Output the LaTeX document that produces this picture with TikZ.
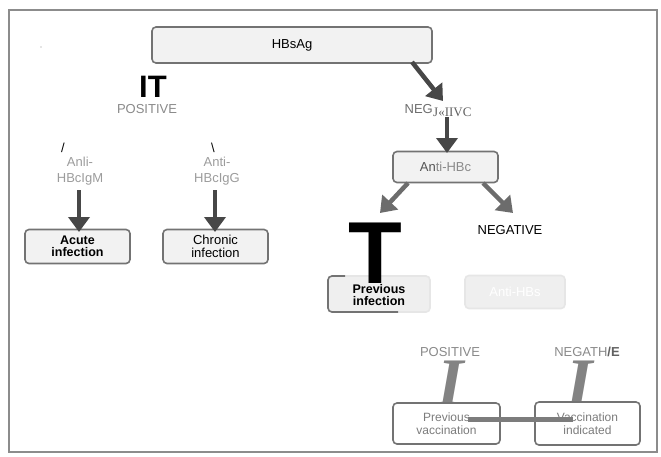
\documentclass[tikz,border=0pt]{standalone}
\usepackage{fontspec}
\setmainfont{Liberation Sans}
\newfontfamily\seriffont{Liberation Serif}
\usetikzlibrary{arrows.meta}
\definecolor{framegray}{HTML}{8C8C8C}
\definecolor{boxline}{HTML}{737373}
\definecolor{boxfill}{HTML}{F2F2F2}
\definecolor{arrowgray}{HTML}{474747}
\definecolor{labelgray}{HTML}{8A8A8A}
\definecolor{palegray}{HTML}{9C9C9C}
\definecolor{fadeline}{HTML}{E6E6E6}
\definecolor{fadefill}{HTML}{EFEFEF}
\tikzset{
  stepbox/.style={draw=boxline, line width=1.6pt, rounded corners=4pt, fill=boxfill,
    inner sep=0pt, align=center, font=\fontsize{13}{12.5}\selectfont},
  lbl/.style={inner sep=0pt, align=center, font=\fontsize{13}{16}\selectfont},
  bigserif/.style={lbl, text=labelgray!95!black, font=\seriffont\bfseries\itshape\fontsize{68}{68}\selectfont},
  flow/.style={line width=4.5pt, draw=arrowgray,
    -{Triangle[length=15pt,width=21pt]}},
}
\begin{document}
\begin{tikzpicture}[x=1pt,y=-1pt]
\useasboundingbox (0,0) rectangle (661,456);
\fill[white] (0,0) rectangle (661,456);
% outer frame
\draw[framegray, line width=1.5pt] (9,10) rectangle (657,452);
\fill[gray!40] (41,47) circle (0.8pt);

% top of the tree
\node[stepbox, minimum width=280pt, minimum height=36pt] (hbsag) at (292,45) {HBsAg};
\node[lbl, font=\bfseries\fontsize{31}{31}\selectfont] (it) at (153,87) {IT};
\node[lbl, text=labelgray] (pos1) at (147,109) {POSITIVE};
\node[lbl, text=labelgray!80!black, anchor=east] (neg1) at (433,109) {NEG};
\node[lbl, text=labelgray!70!black, anchor=west, font=\seriffont\fontsize{13}{13}\selectfont] (neg1b) at (433,112) {J«IIVC};

% left branch
\node[lbl] (sl1) at (63,148) {/};
\node[lbl] (sl2) at (213,148) {\textbackslash};
\node[lbl, text=palegray] (igm) at (80,171) {Anli-\\HBcIgM};
\node[lbl, text=palegray] (igg) at (217,171) {Anti-\\HBcIgG};
\node[stepbox, minimum width=105pt, minimum height=34pt, font=\bfseries\fontsize{12.5}{12.3}\selectfont] (acute) at (77.5,246.5) {Acute\\infection};
\node[stepbox, minimum width=105pt, minimum height=34pt] (chronic) at (215.5,246.5) {Chronic\\infection};

% right branch
\node[stepbox, minimum width=105pt, minimum height=31pt, text=labelgray] (antihbc) at (445.5,167) {{\color{labelgray!60!black}An}ti-HBc};
\node[lbl] (neg2) at (510,230) {NEGATIVE};

% previous infection box, its right side fading out
\node[stepbox, draw=fadeline, fill=fadefill, minimum width=102pt, minimum height=36pt] (previnf) at (379,294) {};
\draw[boxline, line width=1.6pt, rounded corners=4pt]
  (345,276) -- (328,276) -- (328,312) -- (398,312);
\node[stepbox, draw=fadeline, fill=fadefill, minimum width=100pt, minimum height=33pt, text=white] (antihbs) at (515,292) {Anti-HBs};
\node[lbl, font=\bfseries\fontsize{88}{88}\selectfont, anchor=base] (bigt) at (375,283.5) {T};
\node[lbl, font=\bfseries\fontsize{12.5}{12.3}\selectfont] (previnftext) at (379,295) {Previous\\infection};

% bottom level
\node[lbl, text=labelgray] (pos3) at (450,352) {POSITIVE};
\node[lbl, text=labelgray] (neg3) at (587,352) {NEGATH{\color{labelgray!70!black}\bfseries/E}};
\node[bigserif, anchor=base] (bigi1) at (451,405) {I};
\node[bigserif, anchor=base] (bigi2) at (580,405) {I};
\node[stepbox, minimum width=107pt, minimum height=41pt, fill=white, text=labelgray!90!black, font=\fontsize{12}{13}\selectfont] (prevvac) at (446.5,423.5) {Previous\\vaccination};
\node[stepbox, minimum width=105pt, minimum height=43pt, fill=white, text=labelgray!90!black, font=\fontsize{12}{13}\selectfont] (vacind) at (587.5,423.5) {Vaccination\\indicated};

% arrows
\coordinate (a1s) at (412,62);  \coordinate (a1e) at (443,101);
\coordinate (a2s) at (447,117); \coordinate (a2e) at (447,153);
\coordinate (a3s) at (408,183); \coordinate (a3e) at (380,213);
\coordinate (a4s) at (483,183); \coordinate (a4e) at (513,213);
\coordinate (a5s) at (79,190);  \coordinate (a5e) at (79,232);
\coordinate (a6s) at (215,190); \coordinate (a6e) at (215,232);
\draw[flow] (a1s) -- (a1e);
\draw[flow] (a2s) -- (a2e);
\draw[flow, draw=arrowgray!80] (a3s) -- (a3e);
\draw[flow, draw=arrowgray!80] (a4s) -- (a4e);
\draw[flow] (a5s) -- (a5e);
\draw[flow] (a6s) -- (a6e);

% bar joining the two bottom boxes
\coordinate (b1) at (468,419); \coordinate (b2) at (573,419);
\draw[labelgray!90!black, line width=5pt] (b1) -- (b2);
\end{tikzpicture}
\end{document}
